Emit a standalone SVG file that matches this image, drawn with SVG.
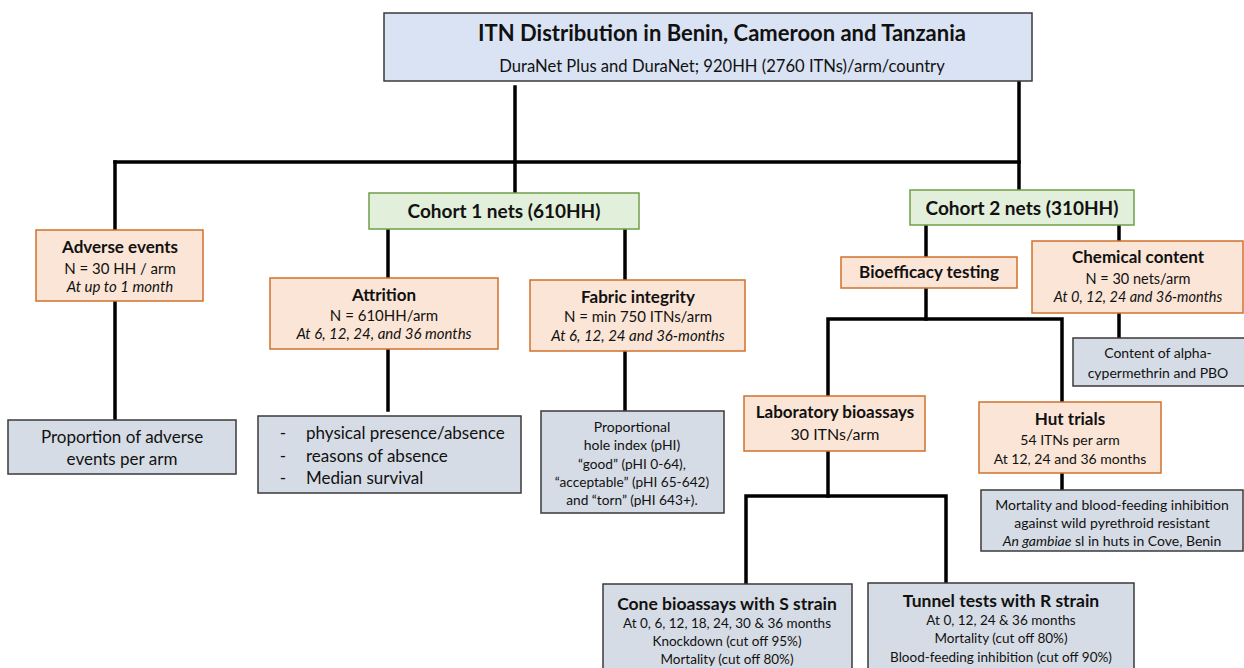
<svg xmlns="http://www.w3.org/2000/svg" width="1244" height="668" viewBox="0 0 1244 668">
<style>
text{font-family:Lato,"Open Sans","Liberation Sans",sans-serif;fill:#111;text-anchor:middle}
.b{font-weight:bold}
.i{font-style:italic}
.blue{fill:#dae3f3;stroke:#3a3a3a;stroke-width:1.5}
.green{fill:#e2efda;stroke:#6fa048;stroke-width:1.5}
.orange{fill:#fbe5d6;stroke:#d0702c;stroke-width:1.5}
.gray{fill:#d6dce5;stroke:#3a3a3a;stroke-width:1.5}
.c{stroke:#000;stroke-width:3.5;fill:none;stroke-linecap:square}
</style>
<rect width="1244" height="668" fill="#fff"/>
<g id="connectors">
<path class="c" d="M515 87V193"/>
<path class="c" d="M1019 82V190"/>
<path class="c" d="M115 162H1019"/>
<path class="c" d="M115 162V230"/>
<path class="c" d="M115 302V420"/>
<path class="c" d="M388 229V278"/>
<path class="c" d="M625 229V280"/>
<path class="c" d="M388 349V410"/>
<path class="c" d="M625 351V411"/>
<path class="c" d="M926 225V257"/>
<path class="c" d="M1119 225V241"/>
<path class="c" d="M1119 313V338"/>
<path class="c" d="M926 288V319"/>
<path class="c" d="M828 396V319H1062V402"/>
<path class="c" d="M1062 473V490"/>
<path class="c" d="M828 451V496"/>
<path class="c" d="M746 584V496H946V582"/>
</g>
<g id="top">
<rect class="blue" x="384" y="13" width="648" height="68"/>
<text class="b" x="722" y="41" font-size="22">ITN Distribution in Benin, Cameroon and Tanzania</text>
<text x="722" y="72" font-size="16.6">DuraNet Plus and DuraNet; 920HH (2760 ITNs)/arm/country</text>
</g>
<g id="cohort1">
<rect class="green" x="369" y="193" width="270" height="36"/>
<text class="b" x="504" y="218" font-size="19">Cohort 1 nets (610HH)</text>
</g>
<g id="cohort2">
<rect class="green" x="910" y="190" width="224" height="35"/>
<text class="b" x="1022" y="215" font-size="19">Cohort 2 nets (310HH)</text>
</g>
<g id="adverse">
<rect class="orange" x="36" y="230" width="167" height="71"/>
<text class="b" x="120" y="253" font-size="17">Adverse events</text>
<text x="120" y="274" font-size="15">N = 30 HH / arm</text>
<text class="i" x="120" y="292" font-size="15">At up to 1 month</text>
</g>
<g id="attrition">
<rect class="orange" x="270" y="278" width="228" height="71"/>
<text class="b" x="384" y="301" font-size="17">Attrition</text>
<text x="384" y="321" font-size="15">N = 610HH/arm</text>
<text class="i" x="384" y="339" font-size="15">At 6, 12, 24, and 36 months</text>
</g>
<g id="fabric">
<rect class="orange" x="530" y="280" width="215" height="71"/>
<text class="b" x="638" y="303" font-size="17">Fabric integrity</text>
<text x="638" y="322" font-size="15">N = min 750 ITNs/arm</text>
<text class="i" x="638" y="341" font-size="15">At 6, 12, 24 and 36-months</text>
</g>
<g id="proportion">
<rect class="gray" x="8" y="420" width="228" height="54"/>
<text x="122" y="443" font-size="17">Proportion of adverse</text>
<text x="122" y="465" font-size="17">events per arm</text>
</g>
<g id="attrition-out">
<rect class="gray" x="258" y="416" width="263" height="77"/>
<text x="283" y="439" font-size="17">-</text>
<text x="283" y="462" font-size="17">-</text>
<text x="283" y="484" font-size="17">-</text>
<text x="306" y="439" font-size="17" style="text-anchor:start">physical presence/absence</text>
<text x="306" y="462" font-size="17" style="text-anchor:start">reasons of absence</text>
<text x="306" y="484" font-size="17" style="text-anchor:start">Median survival</text>
</g>
<g id="fabric-out">
<rect class="gray" x="541" y="411" width="183" height="102"/>
<text x="632" y="432" font-size="14">Proportional</text>
<text x="632" y="450" font-size="14">hole index (pHI)</text>
<text x="632" y="469" font-size="13.7">“good” (pHI 0-64),</text>
<text x="632" y="487" font-size="13.7">“acceptable” (pHI 65-642)</text>
<text x="632" y="505" font-size="13.7">and “torn” (pHI 643+).</text>
</g>
<g id="bioefficacy">
<rect class="orange" x="841" y="257" width="176" height="31"/>
<text class="b" x="929" y="278" font-size="17">Bioefficacy testing</text>
</g>
<g id="chemical">
<rect class="orange" x="1032" y="241" width="211" height="72"/>
<text class="b" x="1138" y="263" font-size="17">Chemical content</text>
<text x="1138" y="284" font-size="14.5">N = 30 nets/arm</text>
<text class="i" x="1138" y="302" font-size="14.5">At 0, 12, 24 and 36-months</text>
</g>
<g id="chemical-out">
<rect class="gray" x="1073" y="338" width="172" height="48"/>
<text x="1158" y="358" font-size="14">Content of alpha-</text>
<text x="1158" y="378" font-size="14">cypermethrin and PBO</text>
</g>
<g id="lab">
<rect class="orange" x="744" y="396" width="181" height="55"/>
<text class="b" x="835" y="418" font-size="17">Laboratory bioassays</text>
<text x="835" y="440" font-size="16">30 ITNs/arm</text>
</g>
<g id="hut">
<rect class="orange" x="979" y="402" width="182" height="71"/>
<text class="b" x="1070" y="425" font-size="17">Hut trials</text>
<text x="1070" y="445" font-size="14">54 ITNs per arm</text>
<text x="1070" y="464" font-size="14">At 12, 24 and 36 months</text>
</g>
<g id="hut-out">
<rect class="gray" x="981" y="490" width="262" height="61"/>
<text x="1112" y="510" font-size="14">Mortality and blood-feeding inhibition</text>
<text x="1112" y="528" font-size="14">against wild pyrethroid resistant</text>
<text x="1112" y="546" font-size="14"><tspan font-style="italic">An gambiae</tspan> sl in huts in Cove, Benin</text>
</g>
<g id="cone">
<rect class="gray" x="603" y="584" width="249" height="90"/>
<text class="b" x="727" y="610" font-size="17.5">Cone bioassays with S strain</text>
<text x="727" y="628" font-size="13.5">At 0, 6, 12, 18, 24, 30 &amp; 36 months</text>
<text x="727" y="646" font-size="13.5">Knockdown (cut off 95%)</text>
<text x="727" y="664" font-size="13.5">Mortality (cut off 80%)</text>
</g>
<g id="tunnel">
<rect class="gray" x="868" y="583" width="266" height="91"/>
<text class="b" x="1001" y="607" font-size="17.5">Tunnel tests with R strain</text>
<text x="1001" y="625" font-size="13.5">At 0, 12, 24 &amp; 36 months</text>
<text x="1001" y="643" font-size="13.5">Mortality (cut off 80%)</text>
<text x="1001" y="662" font-size="13.5">Blood-feeding inhibition (cut off 90%)</text>
</g>
</svg>
